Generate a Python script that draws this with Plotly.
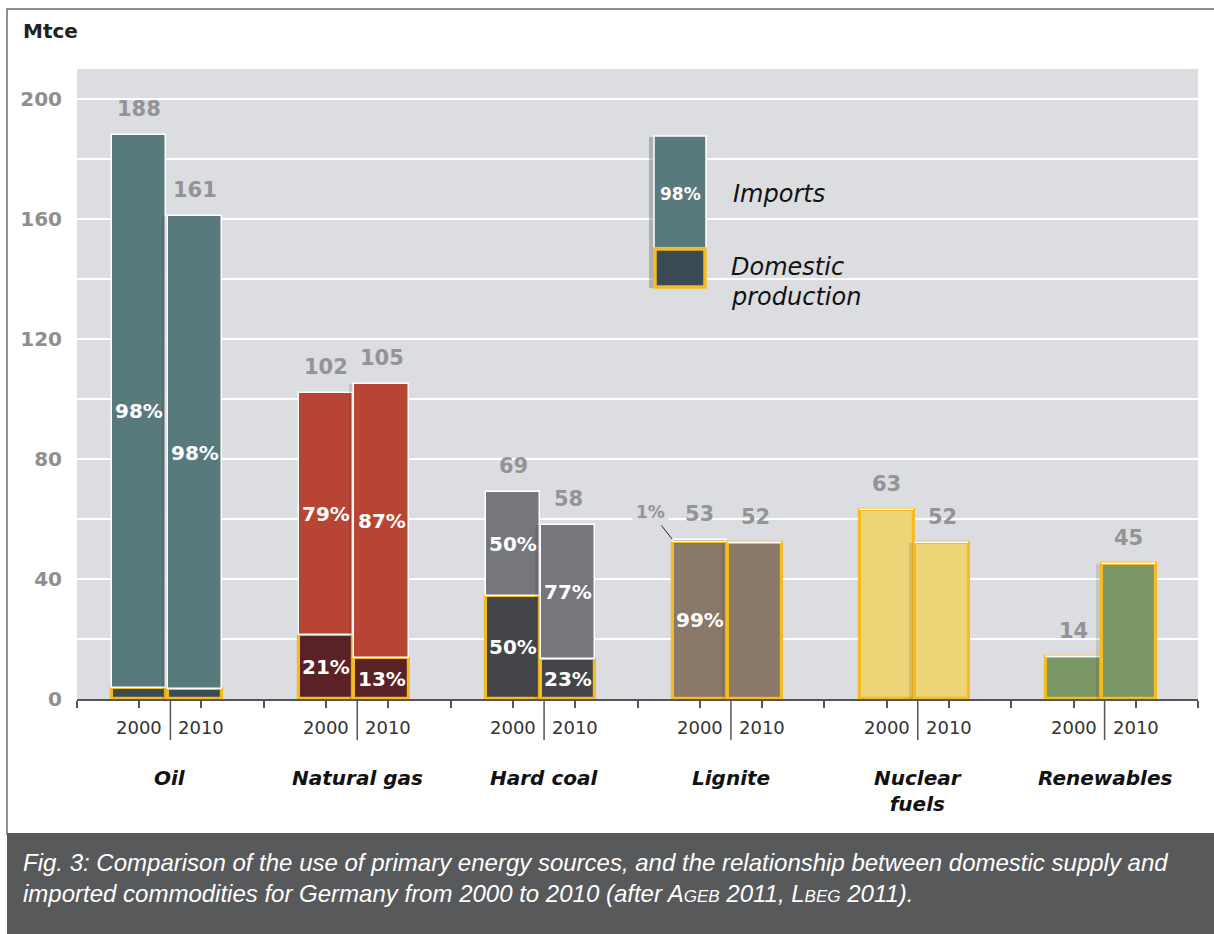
import plotly.graph_objects as go

# ---- data -------------------------------------------------------------
categories = ["Oil", "Natural gas", "Hard coal", "Lignite", "Nuclear<br>fuels", "Renewables"]
years = ["2000", "2010"]

total_2000 = [188, 102, 69, 53, 63, 14]          # Mtce
total_2010 = [161, 105, 58, 52, 52, 45]          # Mtce
domestic_pct_2000 = [2, 21, 50, 99, 100, 100]    # share of domestic production, %
domestic_pct_2010 = [2, 13, 23, 100, 100, 100]

# which shares are written inside the bars
show_import_pct_2000 = [True, True, True, False, False, False]
show_import_pct_2010 = [True, True, True, False, False, False]
show_domestic_pct_2000 = [False, True, True, True, False, False]
show_domestic_pct_2010 = [False, True, True, False, False, False]

y_ticks = [0, 20, 40, 60, 80, 100, 120, 140, 160, 180, 200]
y_labels = ["0", "", "40", "", "80", "", "120", "", "160", "", "200"]

# ---- styling ------------------------------------------------------------
import_colors = ["#587a7c", "#b84434", "#76777c", "#8a7868", "#edd577", "#7b9765"]
domestic_colors = ["#3b4b53", "#5a2127", "#444549", "#8a7868", "#edd577", "#7b9765"]
YELLOW = "#f4bb22"
BG = "#dcdde0"
LABEL_GREY = "#929497"
FONT = "DejaVu Sans"

OFFSET_2000, OFFSET_2010 = -0.166, 0.130
BAR_W = 0.29
SHADOW_W = 0.035

PLOT_L, PLOT_R, PLOT_T, PLOT_B = 77, 1198, 69, 699


def pxx(p):
    return (p - PLOT_L) / (PLOT_R - PLOT_L)


def pxy(p):
    return (PLOT_B - p) / (PLOT_B - PLOT_T)


n = len(categories)
centers = list(range(n))
x2000 = [c + OFFSET_2000 for c in centers]
x2010 = [c + OFFSET_2010 for c in centers]

dom2000 = [t * p / 100 for t, p in zip(total_2000, domestic_pct_2000)]
dom2010 = [t * p / 100 for t, p in zip(total_2010, domestic_pct_2010)]
imp2000 = [t - d for t, d in zip(total_2000, dom2000)]
imp2010 = [t - d for t, d in zip(total_2010, dom2010)]

fig = go.Figure()


def add_year(xs, dom, imp):
    fig.add_trace(go.Bar(
        x=xs, y=dom, base=[0] * n, width=BAR_W,
        marker=dict(color=domestic_colors, line=dict(color=YELLOW, width=3.2)),
        hoverinfo="skip", showlegend=False))
    fig.add_trace(go.Bar(
        x=xs, y=imp, base=dom, width=BAR_W,
        marker=dict(color=import_colors, line=dict(color="white", width=1.5)),
        hoverinfo="skip", showlegend=False))


add_year(x2000, dom2000, imp2000)
# soft shadow cast by the 2010 bars onto their neighbours
fig.add_trace(go.Bar(
    x=[x - BAR_W / 2 - SHADOW_W / 2 + 0.004 for x in x2010], y=total_2010, width=SHADOW_W,
    marker=dict(color="rgba(40,40,40,0.13)", line=dict(width=0)),
    hoverinfo="skip", showlegend=False))
add_year(x2010, dom2010, imp2010)

annotations = []
shapes = []


def note(**kw):
    kw.setdefault("showarrow", False)
    kw.setdefault("xanchor", "center")
    kw.setdefault("yanchor", "middle")
    annotations.append(kw)


# totals above bars
for xs, tots in ((x2000, total_2000), (x2010, total_2010)):
    for x, t in zip(xs, tots):
        note(x=x, y=t, xref="x", yref="y", text=f"<b>{t}</b>", yshift=26,
             font=dict(family=FONT, size=21, color=LABEL_GREY))

# shares inside bars
pct_font = dict(family=FONT, size=20, color="white")
for xs, dom, imp, dpct, s_imp, s_dom in (
        (x2000, dom2000, imp2000, domestic_pct_2000, show_import_pct_2000, show_domestic_pct_2000),
        (x2010, dom2010, imp2010, domestic_pct_2010, show_import_pct_2010, show_domestic_pct_2010)):
    for i in range(n):
        if s_imp[i]:
            note(x=xs[i], y=dom[i] + imp[i] / 2, xref="x", yref="y",
                 text=f"<b>{100 - dpct[i]}%</b>", font=pct_font)
        if s_dom[i]:
            note(x=xs[i], y=dom[i] / 2, xref="x", yref="y",
                 text=f"<b>{dpct[i]}%</b>", font=pct_font)

# small import share of lignite, pointed at with a leader line
lig = categories.index("Lignite")
note(x=x2000[lig] - BAR_W / 2, y=total_2000[lig], xref="x", yref="y",
     text=f"<b>{100 - domestic_pct_2000[lig]}%</b>", showarrow=True, arrowhead=0,
     arrowwidth=1, arrowcolor="#222", ax=-22, ay=-28, standoff=1,
     bgcolor=BG, borderpad=3,
     font=dict(family=FONT, size=17, color=LABEL_GREY))

# year labels, category labels and centre dividers below the axis
for c, name in zip(centers, categories):
    for off, yr in zip((-0.166, 0.166), years):
        note(x=c + off, y=pxy(727), xref="x", yref="paper", text=yr,
             font=dict(family=FONT, size=18, color="#333333"))
    note(x=c, y=pxy(764), xref="x", yref="paper", yanchor="top",
         text=f"<b><i>{name}</i></b>",
         font=dict(family=FONT, size=20, color="#111111"))
    shapes.append(dict(type="line", xref="x", yref="paper", x0=c, x1=c,
                       y0=0, y1=pxy(740), line=dict(color="#555555", width=1.5)))

# legend block drawn inside the plot
shapes.append(dict(type="rect", xref="paper", yref="paper", layer="between",
                   x0=pxx(627), x1=pxx(892), y0=pxy(320), y1=pxy(120),
                   fillcolor=BG, line=dict(width=0)))
shapes.append(dict(type="rect", xref="paper", yref="paper", layer="above",
                   x0=pxx(649), x1=pxx(654), y0=pxy(288), y1=pxy(137),
                   fillcolor="rgba(90,90,90,0.35)", line=dict(width=0)))
shapes.append(dict(type="rect", xref="paper", yref="paper", layer="above",
                   x0=pxx(654), x1=pxx(706), y0=pxy(248), y1=pxy(136),
                   fillcolor=import_colors[0], line=dict(color="white", width=1.5)))
shapes.append(dict(type="rect", xref="paper", yref="paper", layer="above",
                   x0=pxx(655), x1=pxx(705), y0=pxy(287), y1=pxy(249),
                   fillcolor=domestic_colors[0], line=dict(color=YELLOW, width=3.5)))
note(x=pxx(680), y=pxy(194), xref="paper", yref="paper", text="<b>98%</b>",
     font=dict(family=FONT, size=17, color="white"))
legend_font = dict(family=FONT, size=24, color="#111111")
note(x=pxx(731), y=pxy(194), xref="paper", yref="paper", xanchor="left",
     text="<i>Imports</i>", font=legend_font)
note(x=pxx(729), y=pxy(267), xref="paper", yref="paper", xanchor="left",
     text="<i>Domestic</i>", font=legend_font)
note(x=pxx(729), y=pxy(297), xref="paper", yref="paper", xanchor="left",
     text="<i>production</i>", font=legend_font)

# unit label
note(x=pxx(21), y=pxy(31), xref="paper", yref="paper", xanchor="left",
     text="<b>Mtce</b>", font=dict(family=FONT, size=20, color="#222222"))

# frame and caption panel
shapes.append(dict(type="rect", xref="paper", yref="paper", layer="below",
                   x0=pxx(7), x1=pxx(1230), y0=pxy(834), y1=pxy(9),
                   fillcolor="rgba(0,0,0,0)", line=dict(color="#6d6e70", width=1.5)))
shapes.append(dict(type="rect", xref="paper", yref="paper", layer="above",
                   x0=pxx(7), x1=pxx(1230), y0=pxy(945), y1=pxy(833),
                   fillcolor="#58595b", line=dict(width=0)))
cap_font = dict(family="Liberation Sans", size=24, color="white")
sc = "<span style='font-size:17px'>"
note(x=pxx(21), y=pxy(862), xref="paper", yref="paper", xanchor="left",
     text="<i>Fig. 3: Comparison of the use of primary energy sources, and the relationship "
          "between domestic supply and</i>", font=cap_font)
note(x=pxx(21), y=pxy(893), xref="paper", yref="paper", xanchor="left",
     text=f"<i>imported commodities for Germany from 2000 to 2010 (after A{sc}GEB</span> 2011, "
          f"L{sc}BEG</span> 2011).</i>", font=cap_font)

tick_x = []
for c in centers:
    tick_x += [c - 0.5, c - 0.166, c + 0.166]
tick_x.append(centers[-1] + 0.5)

fig.update_layout(
    width=1214, height=934,
    margin=dict(l=PLOT_L, r=1214 - PLOT_R, t=PLOT_T, b=934 - PLOT_B, pad=0),
    paper_bgcolor="white", plot_bgcolor=BG,
    barmode="overlay", bargap=0,
    annotations=annotations, shapes=shapes,
    font=dict(family=FONT),
    xaxis=dict(range=[-0.5, n - 0.5], tickvals=tick_x, ticktext=[""] * len(tick_x),
               ticks="outside", ticklen=7, tickwidth=1.5, tickcolor="#555555",
               showline=True, linecolor="#555555", linewidth=1.5,
               showgrid=False, zeroline=False, fixedrange=True),
    yaxis=dict(range=[0, 210], tickvals=y_ticks, ticktext=[f"<b>{t}</b>" if t else "" for t in y_labels],
               tickfont=dict(family=FONT, size=20, color="#8e8f91"),
               ticks="outside", ticklen=10, tickcolor="rgba(0,0,0,0)",
               showgrid=True, gridcolor="white", gridwidth=2,
               showline=False, zeroline=False, fixedrange=True),
)

fig.write_html("out.html")
